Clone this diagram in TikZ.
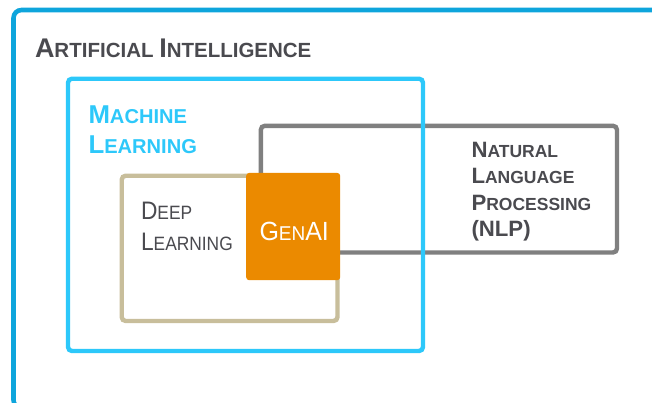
\documentclass[tikz,border=0pt]{standalone}
\usepackage{fontspec}
\setmainfont{Liberation Sans}
\newfontfamily\narrowfont[FakeStretch=0.9]{Liberation Sans}
\newfontfamily\genfont[FakeStretch=0.95]{Liberation Sans}
\definecolor{aiblue}{RGB}{14,165,220}
\definecolor{mlblue}{RGB}{45,200,250}
\definecolor{nlpgray}{RGB}{128,128,128}
\definecolor{dltan}{RGB}{200,190,155}
\definecolor{genorange}{RGB}{235,138,0}
\definecolor{txtgray}{RGB}{74,74,79}
\newcommand\szA{\fontsize{27}{30}\selectfont}
\newcommand\sza{\fontsize{20.5}{30}\selectfont}
\newcommand\szB{\fontsize{25.8}{30}\selectfont}
\newcommand\szb{\fontsize{20.1}{30}\selectfont}
\newcommand\szC{\fontsize{22.2}{26}\selectfont}
\newcommand\szc{\fontsize{17.5}{26}\selectfont}
\newcommand\szD{\fontsize{25.3}{30}\selectfont}
\newcommand\szd{\fontsize{19.3}{30}\selectfont}
\newcommand\szE{\fontsize{26.3}{30}\selectfont}
\newcommand\sze{\fontsize{20}{30}\selectfont}
\tikzset{
  boxline/.style={line width=4.4pt, rounded corners=4pt},
  lbl/.style={anchor=base west, inner sep=0pt, outer sep=0pt},
}
\begin{document}
\begin{tikzpicture}[x=1pt,y=-1pt]
\useasboundingbox (0,0) rectangle (652,402);
% outer AI box
\draw[boxline, aiblue, line width=4.6pt, rounded corners=8pt] (13.5,10) rectangle (680,408);
% NLP box
\draw[boxline, nlpgray] (260.8,125.8) rectangle (617,252.5);
% ML box
\draw[boxline, mlblue] (68,78.7) rectangle (423,351);
% DL box
\draw[boxline, dltan, fill=white] (121.7,175.7) rectangle (337.5,321);
% GenAI box
\node[fill=genorange, rounded corners=3pt, inner sep=0pt, minimum width=94pt, minimum height=107.3pt, anchor=north west] (gen) at (246,172.7) {};
% texts
\node[lbl, text=txtgray] (ai) at (35,57) {\bfseries\szA A\sza RTIFICIAL \szA I\sza NTELLIGENCE};
\node[lbl, text=mlblue] (ml1) at (88.5,123) {\bfseries\szB M\szb ACHINE};
\node[lbl, text=mlblue] (ml2) at (88.5,153) {\bfseries\szB L\szb EARNING};
\node[lbl, text=txtgray] (dl1) at (141,219.3) {\narrowfont\szD D\szd EEP};
\node[lbl, text=txtgray] (dl2) at (141,250) {\narrowfont\szD L\szd EARNING};
\node[lbl, text=white] (gtxt) at (259.5,240) {\genfont\szE G\sze EN\szE AI};
\node[lbl, text=txtgray] (n1) at (471.5,157.3) {\bfseries\szC N\szc ATURAL};
\node[lbl, text=txtgray] (n2) at (471.5,183.5) {\bfseries\szC L\szc ANGUAGE};
\node[lbl, text=txtgray] (n3) at (471.5,210.5) {\bfseries\szC P\szc ROCESSING};
\node[lbl, text=txtgray] (n4) at (471.5,236.7) {\bfseries\szC (NLP)};
\end{tikzpicture}
\end{document}
